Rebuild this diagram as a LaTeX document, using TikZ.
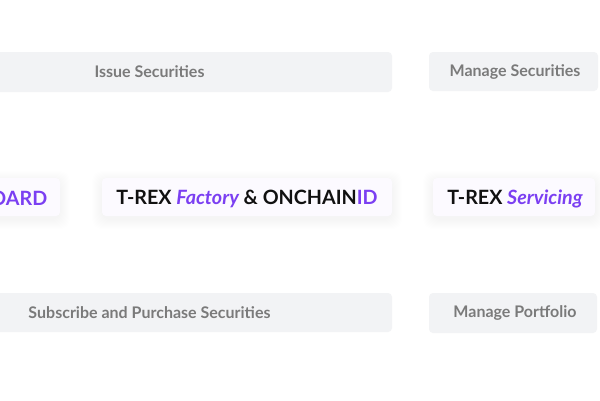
\documentclass[tikz,border=0pt]{standalone}
\usepackage{fontspec}
\setmainfont{Lato}
\usetikzlibrary{positioning}
\definecolor{barfill}{HTML}{F2F3F5}
\definecolor{bartext}{HTML}{7A7A7A}
\definecolor{purp}{HTML}{7B3FF2}
\definecolor{ink}{HTML}{111111}
\definecolor{boxfill}{HTML}{FCFAFF}
\tikzset{
  bar/.style={fill=barfill, rounded corners=4pt},
  bartxt/.style={text=bartext, font=\fontsize{16}{19}\selectfont\bfseries, inner sep=0pt},
  card/.style={fill=boxfill, rounded corners=4pt},
  cardtxt/.style={text=ink, font=\fontsize{19.7}{23}\selectfont\bfseries, inner sep=0pt},
}
\newcommand{\cardshadow}[4]{%
  \foreach \k in {1,...,10}{
    \fill[black, opacity=0.0025, rounded corners=10pt] (#1-\k,#2-\k+3) rectangle (#3+\k,#4+\k+3);
  }
}
\begin{document}
\begin{tikzpicture}[x=1pt,y=-1pt]
\useasboundingbox[fill=white] (0,0) rectangle (600,400);
% bars
\fill[bar] (-20,52) rectangle (392,92);
\node[bartxt] (issue) at (149.5,72) {Issue Securities};
\fill[bar] (429,52) rectangle (598,91);
\node[bartxt] (mansec) at (515,72) {Manage Securities};
\fill[bar] (-20,293) rectangle (392,332);
\node[bartxt] (subs) at (149.5,312.5) {Subscribe and Purchase Securities};
\fill[bar] (429,293) rectangle (597,333);
\node[bartxt] (manport) at (515,313) {Manage Portfolio};
% cards
\cardshadow{-20}{178}{60}{216}
\fill[card] (-20,178) rectangle (60,216);
\node[cardtxt, anchor=east, text=purp] (dash) at (47.5,198) {OARD};
\cardshadow{102}{178}{392}{216}
\fill[card] (102,178) rectangle (392,216);
\node[cardtxt] (factory) at (247,198.5) {T-REX \textcolor{purp}{\itshape Factory} \& ONCHAIN\textcolor{purp}{ID}};
\cardshadow{433}{178}{595}{216}
\fill[card] (433,178) rectangle (595,216);
\node[cardtxt] (servicing) at (515,198.5) {T-REX \textcolor{purp}{\itshape Servicing}};
\end{tikzpicture}
\end{document}
